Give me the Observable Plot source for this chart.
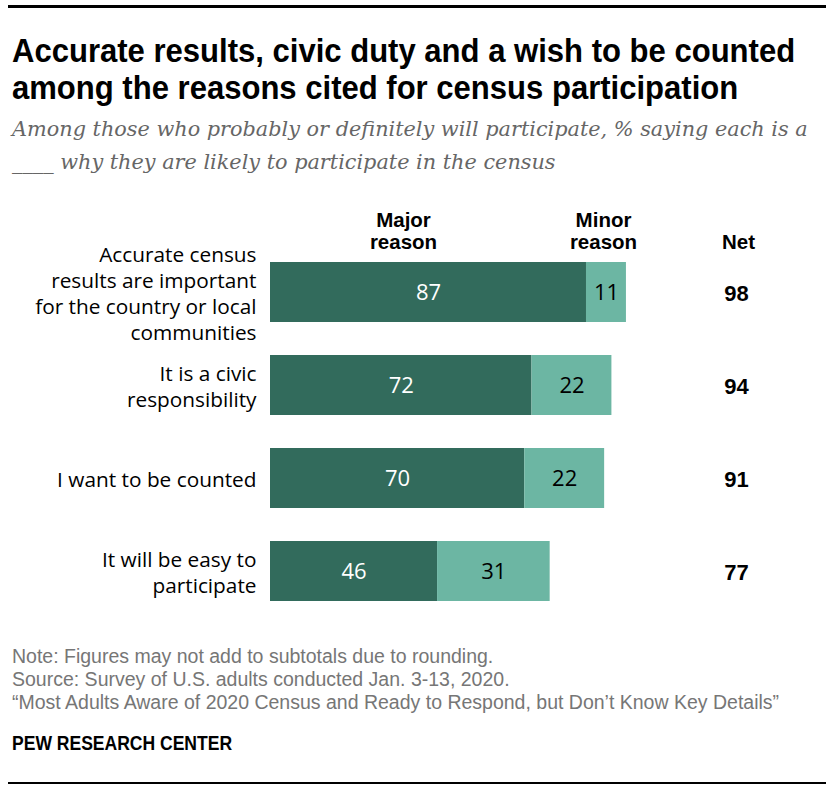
<!DOCTYPE html>
<html><head><meta charset="utf-8">
<script src="https://cdn.jsdelivr.net/npm/d3@7"></script>
<script src="https://cdn.jsdelivr.net/npm/@observablehq/plot@0.6"></script>
<style>
body{margin:0;background:#fff;}
#wrap{position:relative;width:834px;height:794px;overflow:hidden;background:#fff}
.rule{position:absolute;left:8px;width:818px;background:#000}
#title{position:absolute;left:12px;top:31.7px;font-family:"Liberation Sans",Arial,sans-serif;font-weight:bold;font-size:34px;line-height:37px;color:#000;white-space:nowrap;transform:scaleX(0.913);transform-origin:0 0}
#subtitle{position:absolute;left:12px;top:113px;font-family:"DejaVu Serif",Georgia,serif;font-style:italic;font-size:20.8px;line-height:33px;color:#666;white-space:nowrap}
#chart{position:absolute;left:0;top:195px}
.foot{position:absolute;left:12px;font-family:"Liberation Sans",Arial,sans-serif;font-size:19.5px;line-height:23px;color:#767676;white-space:nowrap}
#pew{position:absolute;left:12px;top:732.5px;font-family:"Liberation Sans",Arial,sans-serif;font-weight:bold;font-size:20.5px;line-height:20px;color:#000;white-space:nowrap;transform:scaleX(0.855);transform-origin:0 0}
</style></head>
<body><div id="wrap">
<div class="rule" style="top:5px;height:3px"></div>
<div id="title">Accurate results, civic duty and a wish to be counted<br>among the reasons cited for census participation</div>
<div id="subtitle">Among those who probably or definitely will participate, % saying each is a<br>____ why they are likely to participate in the census</div>
<div id="chart"></div>
<div class="foot" style="top:644.7px">Note: Figures may not add to subtotals due to rounding.<br>Source: Survey of U.S. adults conducted Jan. 3-13, 2020.<br>“Most Adults Aware of 2020 Census and Ready to Respond, but Don’t Know Key Details”</div>
<div id="pew">PEW RESEARCH CENTER</div>
<div class="rule" style="top:782px;height:2px"></div>
</div>
<script>
const categories = ["Accurate results", "Civic responsibility", "Want to be counted", "Easy to participate"];
const labels = ["Accurate census\nresults are important\nfor the country or local\ncommunities", "It is a civic\nresponsibility", "I want to be counted", "It will be easy to\nparticipate"];
const major = [87, 72, 70, 46];
const minor = [11, 22, 22, 31];
const net = [98, 94, 91, 77];
const series = ["Major reason", "Minor reason"];
const headers = ["Major\nreason", "Minor\nreason", "Net"];

const dark = "#326b5c", light = "#6cb6a3";

const tidy = categories.flatMap((c, i) => [
  {category: c, series: series[0], value: major[i]},
  {category: c, series: series[1], value: minor[i]}
]);
const rows = categories.map((c, i) => ({category: c, label: labels[i], net: net[i]}));

const labelFont = "Open Sans, Liberation Sans, sans-serif";
const boldFont = "Liberation Sans, Arial, sans-serif";

const headerMark = (text, dx) => Plot.text([text], {
  text: d => d, frameAnchor: "top-left", textAnchor: "middle", lineAnchor: "bottom",
  dx, dy: -3.6, lineHeight: 1.07, fontSize: 20.5, fontWeight: "bold", fontFamily: boldFont, fill: "#000"
});

const chart = Plot.plot({
  width: 834, height: 425,
  marginLeft: 270, marginRight: 200.8, marginTop: 56.6, marginBottom: 7.7,
  style: {fontFamily: labelFont, overflow: "visible", background: "transparent"},
  x: {domain: [0, 100], axis: null},
  y: {domain: categories, axis: null, paddingInner: 0.35, paddingOuter: 0.1},
  color: {domain: series, range: [dark, light]},
  marks: [
    Plot.barX(tidy, {x: "value", y: "category", fill: "series"}),
    Plot.text(tidy, Plot.stackX({x: "value", y: "category", z: "series",
      text: d => d.series === series[0] ? String(d.value) : "",
      fill: "#fff", fontSize: 22, fontFamily: labelFont})),
    Plot.text(tidy, Plot.stackX({x: "value", y: "category", z: "series",
      text: d => d.series === series[1] ? String(d.value) : "",
      fill: "#000", fontSize: 22, fontFamily: labelFont})),
    Plot.text(rows, {y: "category", text: "label", frameAnchor: "left", textAnchor: "end",
      dx: -14, lineHeight: 1.25, fontSize: 20.8, fontFamily: labelFont, fill: "#000"}),
    Plot.text(rows, {y: "category", text: d => String(d.net), frameAnchor: "right", textAnchor: "middle",
      dx: 102.8, dy: 1, fontSize: 22, fontWeight: "bold", fontFamily: boldFont, fill: "#000"}),
    headerMark(headers[0], 133),
    headerMark(headers[1], 333),
    headerMark(headers[2], 468)
  ]
});
document.getElementById("chart").appendChild(chart);
</script>
</body></html>
